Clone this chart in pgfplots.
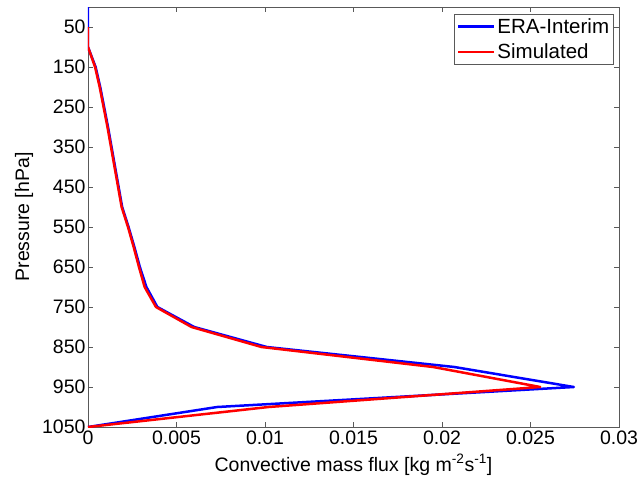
\documentclass[border=0pt]{standalone}
\usepackage{pgfplots}
\pgfplotsset{compat=1.18}
\usepackage{fontspec}
\setmainfont{Liberation Sans}
\begin{document}
\begin{tikzpicture}
\begin{axis}[
  scale only axis,
  width=531pt, height=420pt,
  xmin=0, xmax=0.03, ymin=0, ymax=1050,
  y dir=reverse,
  scaled x ticks=false,
  xtick={0,0.005,0.01,0.015,0.02,0.025,0.03},
  xticklabels={0,0.005,0.01,0.015,0.02,0.025,0.03},
  ytick={50,150,250,350,450,550,650,750,850,950,1050},
  yticklabels={50,150,250,350,450,550,650,750,850,950,1050},
  tick align=inside,
  tick pos=both,
  major tick length=5pt,
  axis line style={black!65, line width=0.8pt},
  every tick/.style={black!65, line width=0.8pt},
  /pgf/number format/assume math mode=true,
  tick label style={font=\fontsize{19.5}{22}\selectfont, text=black},
  yticklabel style={xshift=1pt},
  label style={font=\fontsize{19.5}{22}\selectfont},
  xlabel={Convective mass flux [kg m\textsuperscript{-2}s\textsuperscript{-1}]},
  ylabel={Pressure [hPa]},
  xlabel style={yshift=-3pt},
  ylabel style={yshift=2pt},
  legend style={at={(1,1)}, anchor=north east, xshift=-5pt, yshift=-7pt,
    draw=black!65, line width=0.8pt, font=\fontsize{20.5}{23}\selectfont,
    inner xsep=2.5pt, inner ysep=2pt, row sep=5pt,
    nodes={inner sep=2pt}},
  legend cell align=left,
  legend image code/.code={\draw[#1, line width=2.5pt] (0pt,0pt) -- (36pt,0pt);},
]
\addplot[blue, line width=2.5pt, line join=round] coordinates {
(0,0) (0,50) (0,100) (0.00043,150) (0.00069,200) (0.00091,250) (0.00113,300)
(0.00133,350) (0.00153,400) (0.00173,450) (0.00193,500) (0.00229,550)
(0.00262,600) (0.00293,650) (0.00330,700) (0.00392,750) (0.00600,800)
(0.01010,850) (0.02070,900) (0.02745,950) (0.00730,1000) (0,1050)
};
\addlegendentry{ERA-Interim}
\addplot[red, line width=2.5pt, line join=round] coordinates {
(0,50) (0,100) (0.00040,150) (0.00066,200) (0.00088,250) (0.00110,300)
(0.00130,350) (0.00150,400) (0.00170,450) (0.00190,500) (0.00226,550)
(0.00258,600) (0.00288,650) (0.00320,700) (0.00384,750) (0.00585,800)
(0.00980,850) (0.01950,900) (0.02555,950) (0.01020,1000) (0,1050)
};
\addlegendentry{Simulated}
\end{axis}
\pgfresetboundingbox
\path (-88pt,-58pt) rectangle (555pt,427pt);
\end{tikzpicture}
\end{document}
